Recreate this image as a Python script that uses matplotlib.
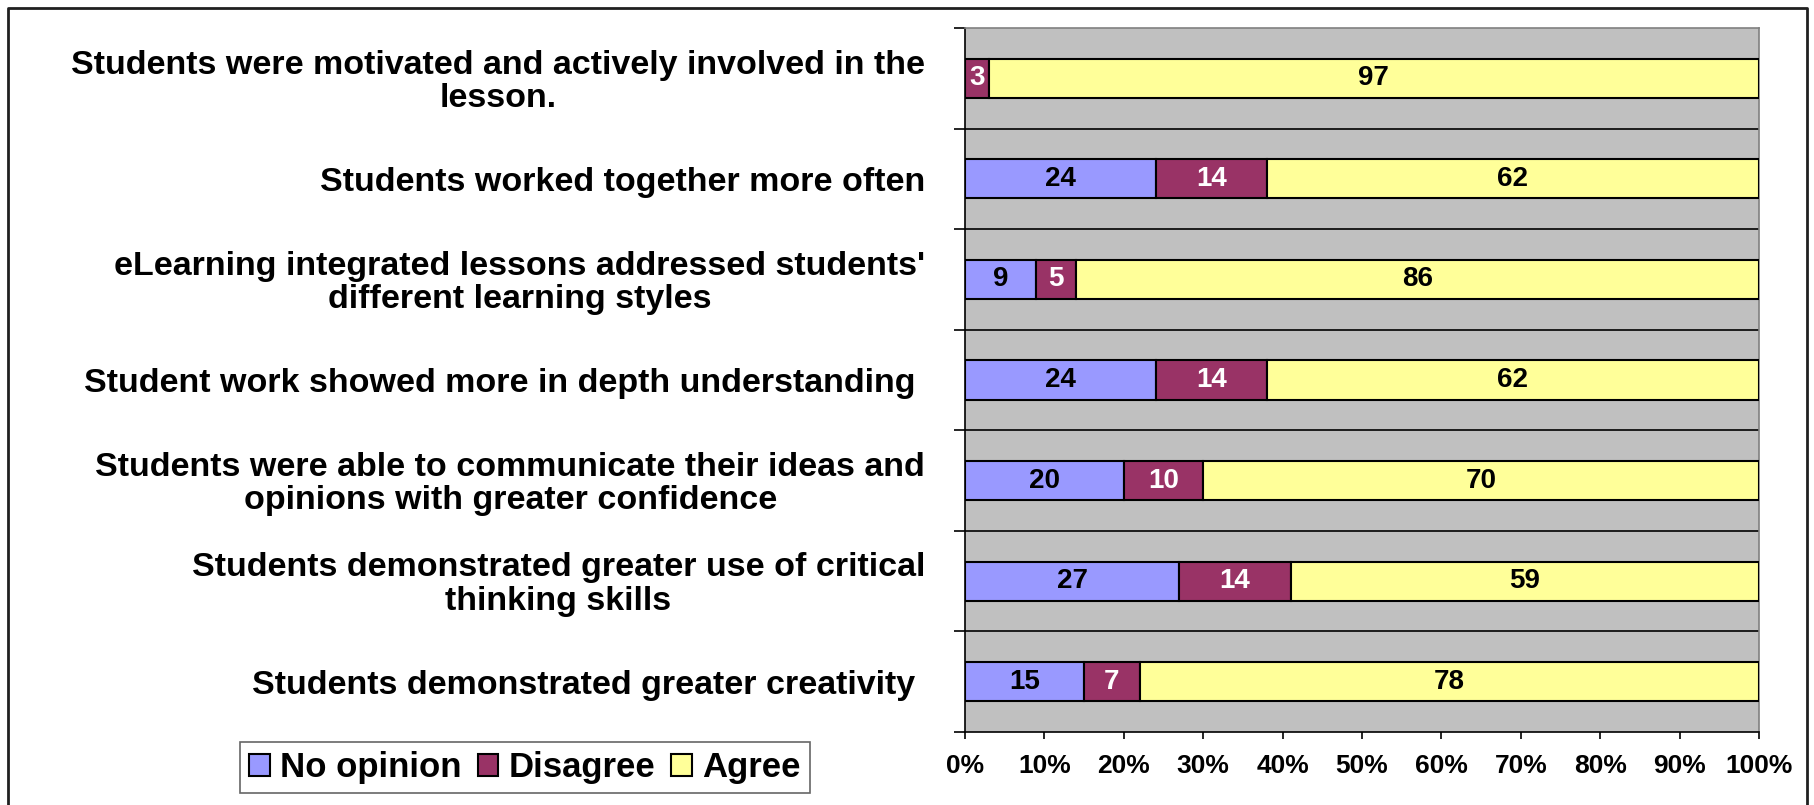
import matplotlib
matplotlib.use('Agg')
import matplotlib.pyplot as plt
from matplotlib.lines import Line2D
import numpy as np

# survey statements, top to bottom
statements = [
    'Students were motivated and actively involved in the\nlesson.',
    'Students worked together more often',
    "eLearning integrated lessons addressed students'\ndifferent learning styles",
    'Student work showed more in depth understanding ',
    'Students were able to communicate their ideas and\nopinions with greater confidence',
    'Students demonstrated greater use of critical\nthinking skills',
    'Students demonstrated greater creativity ',
]
no_opinion = [0, 24, 9, 24, 20, 27, 15]
disagree = [3, 14, 5, 14, 10, 14, 7]
agree = [97, 62, 86, 62, 70, 59, 78]
series_names = ['No opinion', 'Disagree', 'Agree']
series_colors = ['#9999FF', '#993366', '#FFFF99']
label_colors = ['black', 'white', 'black']
xtick_vals = [0, 10, 20, 30, 40, 50, 60, 70, 80, 90, 100]

plt.rcParams['font.family'] = ['Liberation Sans', 'DejaVu Sans']
plt.rcParams['font.weight'] = 'bold'

W, H = 1814, 805
fig = plt.figure(figsize=(W/100, H/100), dpi=100)
fig.patch.set_facecolor('white')

# plot area in pixel coords of the reference
x0, x1, y0, y1 = 965, 1759, 28, 732
ax = fig.add_axes([x0/W, 1 - y1/H, (x1 - x0)/W, (y1 - y0)/H])
ax.set_facecolor('#C0C0C0')

y = np.arange(len(statements))
left = np.zeros(len(statements))
for vals, name, col, lcol in zip([no_opinion, disagree, agree], series_names, series_colors, label_colors):
    bars = ax.barh(y, vals, left=left, height=0.39, color=col, edgecolor='black',
                   linewidth=1.5, label=name, zorder=3)
    ax.bar_label(bars, labels=[str(v) if v > 0 else '' for v in vals], label_type='center',
                 color=lcol, fontsize=20, fontweight='bold', zorder=4)
    left = left + np.array(vals)

ax.set_xlim(0, 100)
ax.set_ylim(len(statements) - 0.5, -0.5)

# category boundaries: ticks + black gridlines
bounds = np.arange(-0.5, len(statements), 1.0)
ax.set_yticks(bounds)
ax.set_yticklabels([])
for b in bounds[1:-1]:
    ax.axhline(b, color='black', linewidth=1.2, zorder=2)
ax.tick_params(axis='y', length=8, width=1.2, direction='out', color='black')

ax.set_xticks(xtick_vals)
ax.set_xticklabels(['%d%%' % v for v in xtick_vals], fontsize=19, fontweight='bold')
ax.tick_params(axis='x', length=5, width=1.2, direction='out', pad=11, color='black')

for s in ['left', 'bottom']:
    ax.spines[s].set_color('black')
    ax.spines[s].set_linewidth(1.2)
for s in ['top', 'right']:
    ax.spines[s].set_color('#808080')
    ax.spines[s].set_linewidth(1.2)

# category labels (nudged a little below band centre like the original)
trans = matplotlib.transforms.blended_transform_factory(ax.transAxes, ax.transData)
for i, lab in enumerate(statements):
    ax.text(-40/(x1 - x0), i + 0.035, lab, transform=trans, ha='right', va='center',
            multialignment='center', fontsize=24.5, fontweight='bold', linespacing=1.1)

leg = fig.legend(loc='center', bbox_to_anchor=(525/W, 1 - 767.5/H), ncol=3,
                 fontsize=25, frameon=True, fancybox=False, shadow=False,
                 handlelength=0.6, handleheight=0.6, handletextpad=0.3,
                 columnspacing=0.45, borderpad=0.25)
leg.get_frame().set_edgecolor('#404040')
leg.get_frame().set_linewidth(1.2)
for t in leg.get_texts():
    t.set_fontweight('bold')

# outer chart frame (left, top, right)
fx0, fx1, fy0 = 8/W, 1807/W, 1 - 8/H
fig.add_artist(Line2D([fx0, fx0, fx1, fx1], [0, fy0, fy0, 0], transform=fig.transFigure,
                      color='#202020', linewidth=2))

fig.savefig('out.png', dpi=100)
